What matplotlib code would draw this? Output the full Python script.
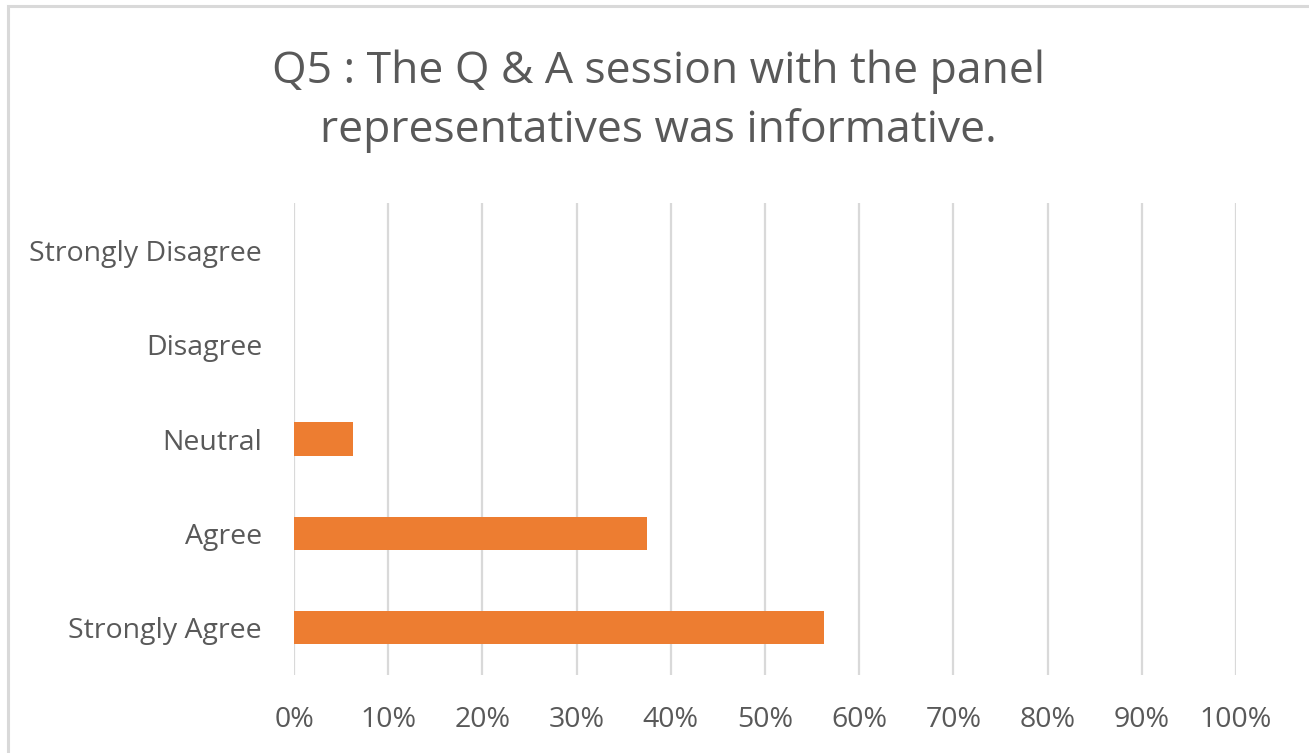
import matplotlib
matplotlib.use("Agg")
import matplotlib.pyplot as plt
from matplotlib.patches import Rectangle
from matplotlib.ticker import MultipleLocator, FuncFormatter

categories = ["Strongly Agree", "Agree", "Neutral", "Disagree", "Strongly Disagree"]
shares = [0.5625, 0.375, 0.0625, 0.0, 0.0]
title = "Q5 : The Q & A session with the panel\nrepresentatives was informative."

plt.rcParams["font.family"] = ["Open Sans", "DejaVu Sans"]
text_color = "#595959"
bar_color = "#ED7D31"
grid_color = "#D9D9D9"

fig = plt.figure(figsize=(13.09, 7.53), dpi=100)
fig.patch.set_facecolor("white")

# chart-area border (only the left and top edges fall inside the canvas)
fig.add_artist(Rectangle((7.5 / 1309, -0.05), 1.1, 1 - 6.5 / 753 + 0.05,
                         transform=fig.transFigure, fill=False,
                         edgecolor="#D9D9D9", linewidth=2.2))

ax = fig.add_axes([294 / 1309, 1 - 675 / 753, (1236 - 294) / 1309, (675 - 203) / 753])
bars = ax.barh(range(len(categories)), shares, height=0.35, color=bar_color,
               linewidth=0, zorder=3)

ax.set_xlim(0, 1)
ax.set_ylim(-0.5, len(categories) - 0.5)
ax.xaxis.set_major_locator(MultipleLocator(0.1))
ax.xaxis.set_major_formatter(FuncFormatter(lambda v, _: f"{v * 100:.0f}%"))
ax.set_yticks(range(len(categories)))
ax.set_yticklabels(categories)

ax.grid(axis="x", color=grid_color, linewidth=1.6, zorder=0)
ax.set_axisbelow(True)
for side in ("top", "right", "bottom", "left"):
    ax.spines[side].set_visible(False)
ax.tick_params(axis="both", length=0, colors=text_color, labelsize=20.5)
ax.tick_params(axis="x", pad=22)
ax.tick_params(axis="y", pad=23)

fig.text(0.503, 1 - 101 / 753, title, ha="center", va="center",
         fontsize=32, color=text_color, linespacing=1.42)

fig.savefig("out.png", dpi=100)
